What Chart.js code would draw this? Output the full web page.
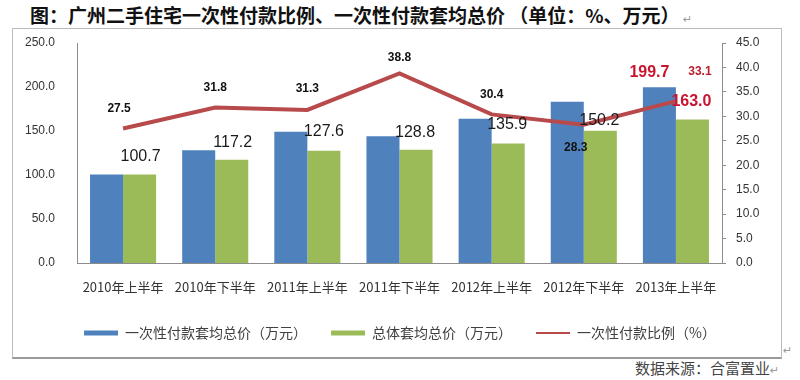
<!DOCTYPE html>
<html><head><meta charset="utf-8">
<script src="https://cdn.jsdelivr.net/npm/chart.js@4/dist/chart.umd.min.js"></script>
<style>
html,body{margin:0;padding:0;background:#fff;}
#wrap{position:relative;width:800px;height:380px;overflow:hidden;background:#fff;}
#frame{position:absolute;left:12px;top:28px;width:768px;height:328px;border:1px solid #bcbcbc;border-bottom:2px solid #9a9a9a;}
#title{position:absolute;left:30px;top:3px;font-family:"Noto Sans CJK SC";font-weight:bold;font-size:19px;line-height:24px;color:#111;white-space:nowrap;}
.ret{font-size:11px;color:#999;font-weight:normal;font-family:"DejaVu Sans";}
#source{position:absolute;left:635px;top:358px;font-family:"Noto Sans CJK SC";font-size:15px;line-height:20px;color:#444;white-space:nowrap;}
#ret2{position:absolute;left:783px;top:344px;}
canvas{position:absolute;left:0;top:0;}
</style></head>
<body>
<div id="wrap">
  <div id="frame"></div>
  <div id="title">图：广州二手住宅一次性付款比例、一次性付款套均总价 （单位：%、万元）<span class="ret"> ↵</span></div>
  <div id="source">数据来源：合富置业<span class="ret">↵</span></div>
  <div id="ret2" class="ret">↵</div>
  <canvas id="c" width="800" height="380"></canvas>
</div>
<script>
// ---- data ----
const categories = ["2010年上半年","2010年下半年","2011年上半年","2011年下半年","2012年上半年","2012年下半年","2013年上半年"];
const seriesNames = ["一次性付款套均总价（万元）","总体套均总价（万元）","一次性付款比例（%）"];
const lumpSumAvgPrice = [100.7, 128.0, 149.2, 144.0, 164.0, 183.3, 199.7];
const overallAvgPrice = [100.7, 117.2, 127.6, 128.8, 135.9, 150.2, 163.0];
const lumpSumRatio = [27.5, 31.8, 31.3, 38.8, 30.4, 28.3, 33.1];
const leftAxisTicks = [0, 50, 100, 150, 200, 250];
const rightAxisTicks = [0, 5, 10, 15, 20, 25, 30, 35, 40, 45];

// ---- styles ----
const RED = '#c8142e';
const tickFont = {family:'"Liberation Sans", Arial, sans-serif', size:12};
const cjkFont = '"Noto Sans CJK SC", sans-serif';

// label placements (offsets from the drawn element, in px)
const greenOffsets = [[1,-18],[1,-17],[0,-19],[-1,-17],[-1,-19],[-1,-10],[-1,-18]];
const lineOffsets = [[-4,-20],[0,-20],[0,-21],[0,-16],[0,-20],[-8,23],[24,-29]];
const labelItems = [];
overallAvgPrice.forEach((v,i)=>{
  const last = i === overallAvgPrice.length-1;
  labelItems.push({ds:1, i, dx:greenOffsets[i][0], dy:greenOffsets[i][1],
    font:(last?'bold ':'')+'16px "Liberation Sans", Arial, sans-serif', color:last?RED:'#1a1a1a'});
});
labelItems.push({ds:0, i:6, dx:-10, dy:-15, font:'bold 16px "Liberation Sans", Arial, sans-serif', color:RED});
lumpSumRatio.forEach((v,i)=>{
  const last = i === lumpSumRatio.length-1;
  labelItems.push({ds:2, i, dx:lineOffsets[i][0], dy:lineOffsets[i][1],
    font:'bold 12px "Liberation Sans", Arial, sans-serif', color:last?'#b8202e':'#111'});
});

const valueLabels = {
  id:'valueLabels',
  afterDatasetsDraw(chart, args, opts){
    const ctx = chart.ctx;
    ctx.save();
    ctx.textAlign='center'; ctx.textBaseline='middle';
    opts.items.forEach(it=>{
      const el = chart.getDatasetMeta(it.ds).data[it.i];
      const v = chart.data.datasets[it.ds].data[it.i];
      ctx.font = it.font; ctx.fillStyle = it.color;
      ctx.fillText(v.toFixed(1), el.x + it.dx, el.y + it.dy);
    });
    ctx.restore();
  }
};

const axisColor = '#8c8c8c';
new Chart(document.getElementById('c'), {
  type:'bar',
  data:{
    labels: categories,
    datasets:[
      {label:seriesNames[0], data:lumpSumAvgPrice, backgroundColor:'#4f81bd', yAxisID:'y', order:1, categoryPercentage:0.717, barPercentage:1},
      {label:seriesNames[1], data:overallAvgPrice, backgroundColor:'#9bbb59', yAxisID:'y', order:1, categoryPercentage:0.717, barPercentage:1},
      {type:'line', label:seriesNames[2], data:lumpSumRatio, borderColor:'#b84a4c', backgroundColor:'#b84a4c', borderWidth:4, pointRadius:0, tension:0, fill:false, yAxisID:'y1', order:0}
    ]
  },
  plugins:[valueLabels],
  options:{
    responsive:false, animation:false, devicePixelRatio:1,
    layout:{padding:{left:0, right:0, top:43, bottom:30}},
    plugins:{
      tooltip:{enabled:false},
      title:{display:false},
      valueLabels:{items:labelItems},
      legend:{
        position:'bottom',
        labels:{
          usePointStyle:true, pointStyleWidth:34, boxHeight:5, padding:24,
          font:{family:cjkFont, size:14}, color:'#404040',
          generateLabels(chart){
            return chart.data.datasets.map((ds,i)=>{
              const isLine = ds.type === 'line';
              const c = isLine ? ds.borderColor : ds.backgroundColor;
              return {text:ds.label, fillStyle:c, strokeStyle:c, lineWidth:isLine?2:0,
                pointStyle:isLine?'line':'rect', datasetIndex:i, hidden:false, fontColor:'#404040'};
            });
          }
        }
      }
    },
    scales:{
      x:{
        grid:{display:false, drawTicks:false},
        border:{display:true, color:axisColor},
        ticks:{padding:16, font:{family:cjkFont, size:13}, color:'#333', maxRotation:0, autoSkip:false},
        afterFit(s){ s.height = 39; }
      },
      y:{
        position:'left', min:leftAxisTicks[0], max:leftAxisTicks[leftAxisTicks.length-1],
        afterBuildTicks(s){ s.ticks = leftAxisTicks.map(v=>({value:v})); },
        ticks:{padding:22, font:tickFont, color:'#333', callback:v=>Number(v).toFixed(1)},
        grid:{display:false, drawTicks:false},
        border:{display:true, color:axisColor},
        afterFit(s){ s.width = 77; }
      },
      y1:{
        position:'right', min:rightAxisTicks[0], max:rightAxisTicks[rightAxisTicks.length-1],
        afterBuildTicks(s){ s.ticks = rightAxisTicks.map(v=>({value:v})); },
        ticks:{padding:10, font:tickFont, color:'#333', callback:v=>Number(v).toFixed(1)},
        grid:{display:true, drawOnChartArea:false, drawTicks:true, tickLength:4, color:axisColor},
        border:{display:true, color:axisColor},
        afterFit(s){ s.width = 78; }
      }
    }
  }
});
</script>
</body></html>
